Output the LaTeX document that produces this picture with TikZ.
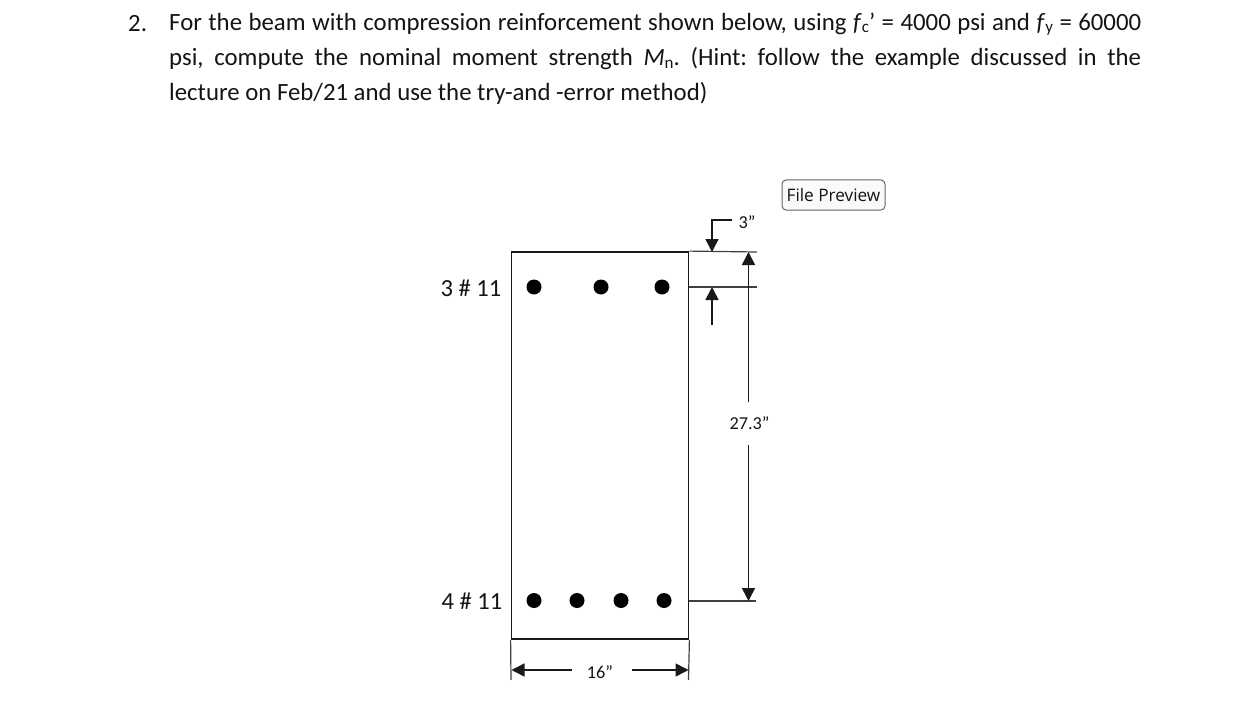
\documentclass[tikz,border=0pt]{standalone}
\usepackage{fontspec}
\setmainfont{Carlito}
\newfontfamily\uifont{Open Sans}
\usetikzlibrary{arrows.meta}
\frenchspacing
\newcommand{\bodysize}{\fontsize{24.8}{28}\selectfont}
\newcommand{\dimsize}{\fontsize{18.2}{20}\selectfont}
\newcommand{\barsize}{\fontsize{24.6}{26}\selectfont}
\newcommand{\smallsub}[1]{{\fontsize{17}{20}\selectfont\raisebox{-2.5pt}{#1}}}
\begin{document}
\begin{tikzpicture}[x=1pt,y=-1pt]
\tikzstyle{every node}=[inner sep=0pt, text=black!92]
\tikzstyle{rebar}=[circle, minimum width=15pt, fill=black]
\tikzstyle{witness}=[line width=1.2pt, black!75]
\tikzstyle{dimline}=[line width=1.5pt, black!90, -{Triangle[length=13pt,width=13pt]}]
\useasboundingbox (0,0) rectangle (1243,706);
% question text
\draw (128,24) node (num) [anchor=west] {\bodysize 2.};
\draw (169,24) node (line1) [anchor=west] {\bodysize\makebox[972pt][s]{For the beam with compression reinforcement shown below, using \textit{f}\smallsub{c}’ = 4000 psi and \textit{f}\smallsub{y} = 60000}};
\draw (169,59) node (line2) [anchor=west] {\bodysize\makebox[972pt][s]{psi, compute the nominal moment strength \textit{M}\smallsub{n}. (Hint: follow the example discussed in the}};
\draw (169,93) node (line3) [anchor=west] {\bodysize lecture on Feb/21 and use the try-and -error method)};
\draw (833.5,195) node (preview) [draw=black!60, fill=black!2, rounded corners=4pt, line width=1pt, minimum width=103pt, minimum height=30pt] {\uifont\fontsize{17.2}{20}\selectfont File Preview};
% beam
\draw (600,445.5) node (beam) [draw=black!90, line width=1.8pt, minimum width=177pt, minimum height=387pt] {};
\draw (471,288) node (toplabel) {\barsize 3 \# 11};
\draw (472,601) node (botlabel) {\barsize 4 \# 11};
\draw (534,287) node (t1) [rebar] {};
\draw (601,287) node (t2) [rebar] {};
\draw (662,287) node (t3) [rebar] {};
\draw (534,600.5) node (b1) [rebar] {};
\draw (577,600.5) node (b2) [rebar] {};
\draw (621,600.5) node (b3) [rebar] {};
\draw (664,600.5) node (b4) [rebar] {};
% witness lines
\coordinate (wa) at (757,252);
\coordinate (wb1) at (689,287);
\coordinate (wb2) at (757,287);
\coordinate (wc1) at (689,601);
\coordinate (wc2) at (756,601);
\coordinate (wd) at (511,680);
\coordinate (we) at (688.5,680);
\draw[witness] (beam.north east) -- (wa);
\draw[witness] (wb1) -- (wb2);
\draw[witness] (wc1) -- (wc2);
\draw[witness] (beam.south west) -- (wd);
\draw[witness] (beam.south east) -- (we);
% 3 inch cover
\draw (747,222) node (cover) {\dimsize 3”};
\coordinate (ca) at (732,220);
\coordinate (cb) at (712,220);
\coordinate (cc) at (712,252);
\coordinate (cd) at (712,325);
\coordinate (ce) at (712,287);
\draw[dimline] (ca) -- (cb) -- (cc);
\draw[dimline] (cd) -- (ce);
% 27.3 inch depth
\draw (749.5,423) node (depth) {\dimsize 27.3”};
\coordinate (da) at (748.5,402);
\coordinate (db) at (748.5,252);
\coordinate (dc) at (748.5,445);
\coordinate (dd) at (748.5,601);
\draw[dimline] (da) -- (db);
\draw[dimline] (dc) -- (dd);
% 16 inch width
\draw (600,672) node (width) {\dimsize 16”};
\coordinate (wf) at (572,670);
\coordinate (wg) at (511.5,670);
\coordinate (wh) at (632,670);
\coordinate (wi) at (688.5,670);
\draw[dimline] (wf) -- (wg);
\draw[dimline] (wh) -- (wi);
\end{tikzpicture}
\end{document}
